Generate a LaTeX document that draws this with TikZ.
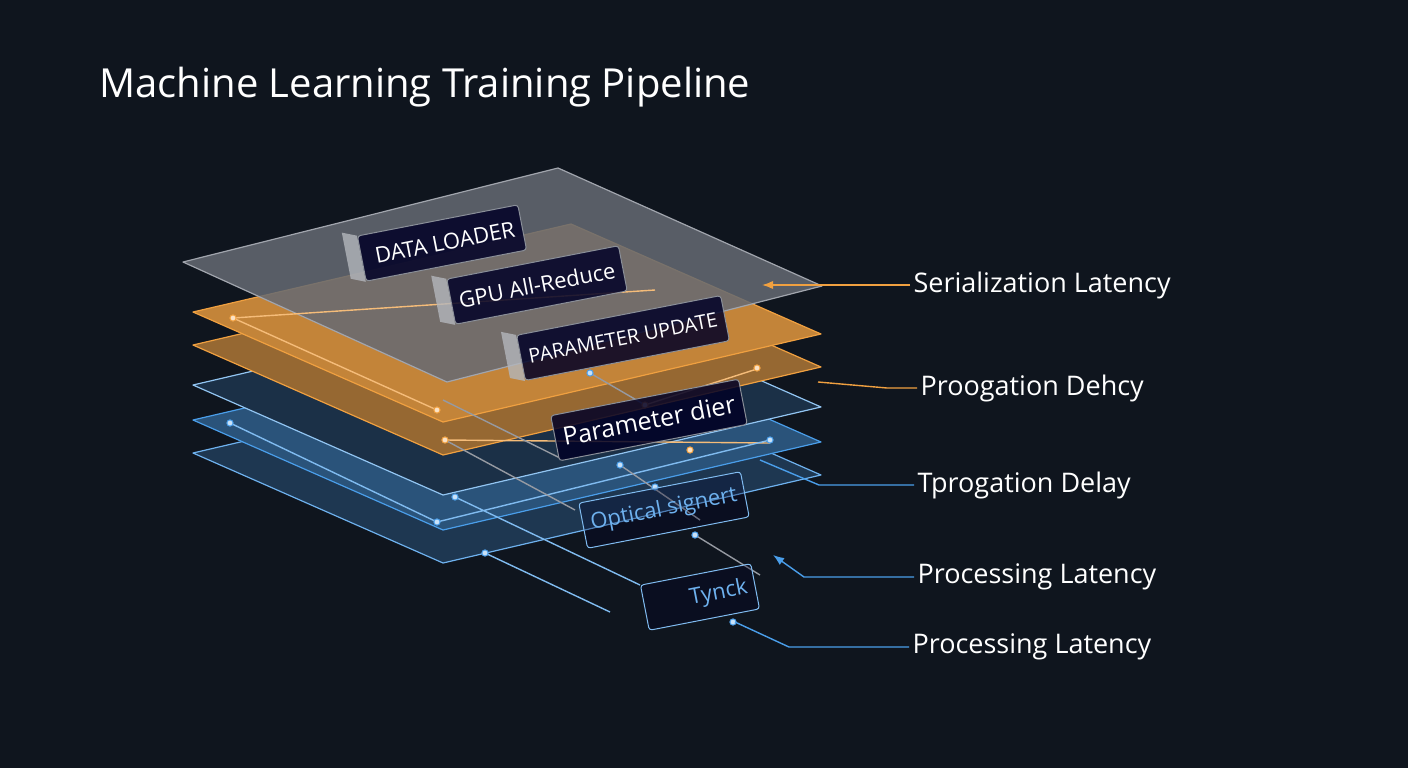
\documentclass[tikz,border=0pt]{standalone}
\usepackage{fontspec}
\setmainfont{Open Sans}
\usetikzlibrary{arrows.meta,calc}
\definecolor{bg}{HTML}{0F151E}
\definecolor{org}{HTML}{F0A040}
\definecolor{blu}{HTML}{4A9EEA}
\definecolor{gry}{HTML}{8A8F98}
\tikzset{>={Latex[scale=1.2]},
  plane/.style={line width=1.2pt, line join=round},
  tag/.style={draw=#1, fill=black!85!blue, fill opacity=.85, text opacity=1, rounded corners=3pt,
    minimum height=46pt, rotate=11, line width=1pt, font=\fontsize{22}{22}\selectfont, inner sep=8pt},
  lbl/.style={anchor=west, text=white, font=\fontsize{27}{27}\selectfont},
  wire/.style={line width=1.4pt},
  dot/.style={circle, fill=#1!30!white, inner sep=2.2pt, draw=#1, line width=1pt}}
\newcommand{\layer}[4]{% left corner x, y, draw colour, fill
  \draw[plane, draw=#3, fill=#4] (#1,#2) -- ++(250,110) -- ++(378,-88) -- ++(-250,-110) -- cycle;}
\newcommand{\tab}[1]{% grey tab behind a tag
  \fill[gry!65, opacity=.8] ($(#1.north west)+(-15,-3)$) -- (#1.north west) -- (#1.south west) -- ($(#1.south west)+(-15,-3)$) -- cycle;}
\begin{document}
\begin{tikzpicture}[x=1pt, y=-1pt]
\fill[bg] (0,0) rectangle (1408,768);
\useasboundingbox (0,0) rectangle (1408,768);
\node[anchor=west, text=white, font=\fontsize{40}{40}\selectfont] (title) at (96,87) {Machine Learning Training Pipeline};
% layers, back to front
\layer{193}{453}{blu!80}{blu!25!bg}
\layer{193}{420}{blu}{blu!45!bg}
\layer{193}{385}{blu!60}{blu!20!bg}
\layer{193}{345}{org}{org!60!bg}
\layer{193}{312}{org}{org!80!bg}
\draw[plane, draw=gry!80, fill=gry!70!bg, fill opacity=.85] (183,262) -- ++(264,120) -- ++(375,-96) -- ++(-264,-118) -- cycle;
% wires
\draw[wire, org!70!white] (233,318) -- (437,410) (445,440) -- (770,443) (233,318) -- (655,290) (645,405) -- (760,368);
\draw[wire, blu!70!white] (230,423) -- (437,522) -- (770,440) (455,497) -- (640,585) (485,553) -- (610,612);
\draw[wire, gry!90] (443,400) -- (560,458) (590,373) -- (645,405) (445,440) -- (575,510) (620,465) -- (700,520) (695,535) -- (760,575);
\foreach \x/\y/\c in {233/318/org, 437/410/org, 445/440/org, 645/405/org, 690/450/org, 757/368/org,
  230/423/blu, 437/522/blu, 455/497/blu, 485/553/blu, 620/465/blu, 655/487/blu, 695/535/blu, 733/622/blu, 590/373/blu, 770/440/blu}
  \node[dot=\c] at (\x,\y) {};
% tags
\node[tag=gry, text=white] (load) at (442,243) {\ DATA LOADER\hspace{40pt}};
\tab{load}
\node[tag=gry, text=white] (gpu) at (537,285) {GPU All-Reduce\hspace{14pt}};
\tab{gpu}
\node[tag=gry, text=white, font=\fontsize{20}{20}\selectfont] (upd) at (623,338) {PARAMETER UPDATE};
\tab{upd}
\node[tag=gry, text=white, font=\fontsize{25}{25}\selectfont] (dier) at (649,420) {Parameter dier};
\node[tag=blu!70, text=blu!80!white, fill opacity=.3] (sig) at (664,510) {Optical signert\hspace{10pt}};
\node[tag=blu!70, text=blu!80!white, fill opacity=.3] (tyn) at (700,597) {\hspace{38pt}Tynck\hspace{38pt}};
% right labels
\node[lbl] (l1) at (910,285) {Serialization Latency};
\node[lbl] (l2) at (917,388) {Proogation Dehcy};
\node[lbl] (l3) at (914,485) {Tprogation Delay};
\node[lbl] (l4) at (914,577) {Processing Latency};
\node[lbl] (l5) at (909,647) {Processing Latency};
\coordinate (c1) at (762,285);
\coordinate (c2) at (818,382);
\coordinate (c3) at (760,460);
\coordinate (c4) at (773,555);
\coordinate (c5) at (735,622);
\draw[wire, org, ->] (l1.west) -- (c1);
\draw[wire, org] (l2.west) -- ++(-30,0) -- (c2);
\draw[wire, blu] (l3.west) -- ++(-95,0) -- (c3);
\draw[wire, blu, ->] (l4.west) -- ++(-110,0) -- (c4);
\draw[wire, blu] (l5.west) -- ++(-120,0) -- (c5);
\end{tikzpicture}
\end{document}
